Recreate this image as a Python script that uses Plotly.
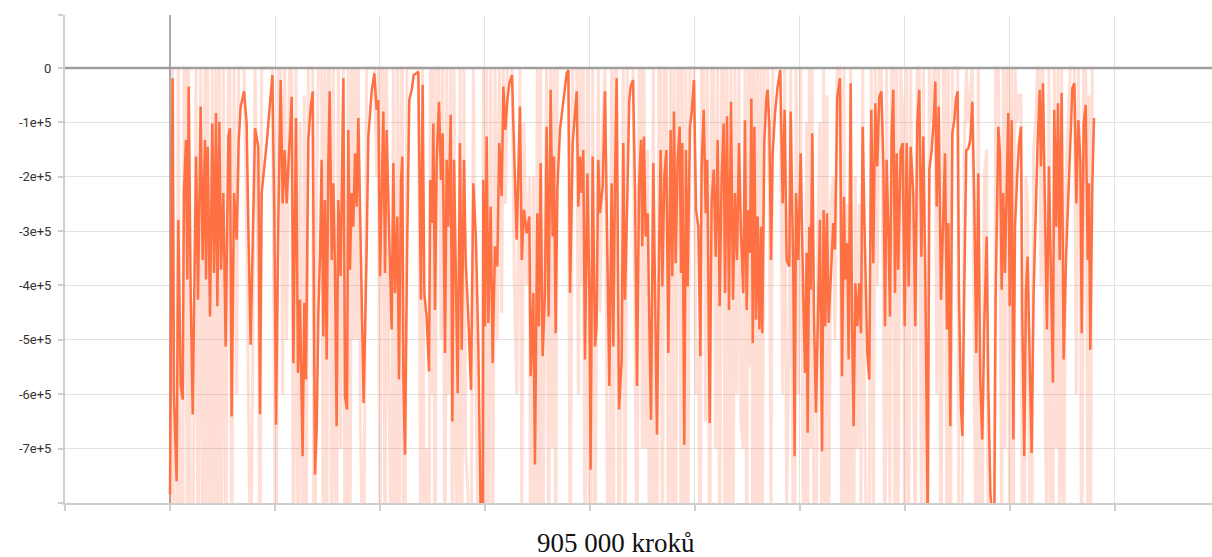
import numpy as np
import plotly.graph_objects as go

# training steps (thousands)
steps_k = (
    [0, 2.5, 3.8, 6.3, 7.9, 10.2, 12.1, 13.3, 15.2, 16.5,
     17.8, 19.7, 21.6, 24.8, 26.7, 29.2, 31.1, 33.3, 34.3, 35.9,
     38.1, 40.3, 41.9, 43.8, 45.1, 47, 48.6, 50.8, 53, 55.6,
     57.1, 58.7, 61, 63.5, 65.4, 67.3, 70.5, 73, 74.6, 76.8,
     81, 84.1, 85.7, 87.3, 92.1, 97.5, 99.4, 101, 103.2, 105.4,
     107.3, 109.2, 111.1, 113.7, 115.9, 117.5, 120, 121.9, 123.8, 126.3,
     127.9, 129.5, 131.7, 134, 135.9, 137.1, 138.1]
    + [139.7, 141.3, 142.9, 144.4, 146, 147.6, 149.2, 150.8, 152.1, 154,
       155.6, 157.1, 158.7, 160.3, 162.5, 165.1, 166.7, 168.6, 169.8, 171.4,
       173, 174.6, 176.2, 177.8, 179.4, 181, 182.5, 184.4, 187.3, 188.9,
       192.1, 194.6, 196.8, 198.4, 200, 201.6, 203.2, 204.8, 206.3, 208.6,
       211.1, 212.7, 214.3, 216.5, 218.1, 220, 221.3, 222.2, 223.8, 225.7,
       227.9, 230.2, 232.1, 234.3, 236.5, 239, 240.6, 242.2, 244.4, 246.7,
       247.9, 249.8, 250.8, 252.4, 254, 256.2, 258.1, 259.7, 261.9, 263.5,
       265.1, 267.3, 268.9, 270.5, 272.1, 274, 276.2, 277.8, 280, 281.6,
       284.1, 286.7, 288.9]
    + [291.4, 293.6, 295.9, 297.8, 298.4, 300, 301.6, 303.2, 305.4, 307.3,
       309.5, 311.7, 313.6, 315.9, 317.5, 319.4, 321.3, 323.2, 325.7, 328,
       330.2, 333.3, 335, 337.1, 339.7, 342.2, 343.5, 346, 347.6, 349.8,
       351.4, 353, 354.9, 357.1, 358.7, 360.6, 362.5, 364.4, 365.7, 367.3,
       368.9, 371.4, 374.6, 377.8, 379.4, 381, 383.5, 385.7, 387.3, 388.9,
       390.5, 392.1, 393.6, 395.2, 397.5, 399.4, 400.6, 402.5, 404.8, 406.3,
       407.9, 409.5, 412.1, 414.3, 416.5, 418.4, 420.6, 422.2, 423.8, 425.4,
       427.6, 430.2, 431.7, 433.3, 435.5, 437.4]
    + [438.7, 441, 442.9, 444.8, 446.7, 448.6, 449.8, 451.4, 453, 455,
       456.2, 458.1, 460.3, 461.9, 463.8, 465.7, 467.3, 468.9, 470.8, 472.7,
       474.6, 476.8, 478.4, 480, 481.6, 483.5, 485.4, 486.7, 487.9, 489.8,
       491.4, 493, 495.2, 496.8, 499, 501, 503.2, 505.1, 506.3, 508.3,
       510.2, 511.7, 514, 515.9, 517.8, 519.7, 521.6, 523.5, 525.4, 527.3,
       528.6, 530.5, 532.4, 534.3, 536.2, 538.1, 540, 541.9, 543.8, 546,
       547.6, 549.2, 550.8, 552.4, 553.7, 555, 556.5, 558.1, 559.7, 561.3,
       562.9, 564.1, 566, 567.9, 569.2, 570.8, 572.4, 574, 576.2, 578.7,
       581.2, 583.5, 585.4]
    + [587.3, 589.8, 591.1, 593.6, 594.9, 596.2, 598.4, 600.6, 603.2, 604.8,
       606.3, 607.3, 608.9, 610.2, 611.7, 613.3, 615.2, 617.1, 619, 621,
       622.5, 624.1, 625.7, 627.3, 629.5, 631.7, 633.3, 635.5, 638.1, 640,
       641.9, 643.1, 645.1, 646.3, 648.3, 649.5, 651.1, 652.7, 654.6, 656.5,
       658.1, 659.7, 661.6, 664.1, 666, 667.9, 669.8, 671.7, 673.6, 675.5,
       677.5, 679.4, 681, 682.5, 684.4, 685.7, 687.3, 688.9, 690.5, 692.1,
       693.6, 695.9, 697.8, 699.7, 701.6, 703.5, 705.4, 707.9, 709.8, 711.7,
       713.6, 715.6, 717.5, 719.4, 721.6, 723.2, 725.4, 727.6, 728.9, 730.2,
       732.1]
    + [734.3, 736.5, 738.1, 740, 741.3, 743.2, 745.1, 747, 748.6, 750.2,
       751.4, 753.3, 754.6, 756.5, 758.4, 760.3, 762.2, 764.1, 766, 767.9,
       769.8, 771.7, 773.6, 775.5, 777.8, 779.4, 781.3, 783.2, 785.1, 786.3,
       787.6, 788.9, 790.5, 792.1, 793.6, 795.2, 796.8, 798.4, 799.7, 801.6,
       803.2, 804.8, 806.7, 808.6, 810.5, 811.7, 813.6, 815.2, 816.8, 818.7,
       820.6, 822.5, 824.4, 826.3, 828.3, 829.5, 831.4, 833.3, 835.2, 837.1,
       839, 840.9, 842.2, 844.1, 845.7, 847.3, 849.2, 851.1, 853.3, 855.6,
       857.5, 859.4, 861.3, 863.2, 865.1, 867, 868.3, 870.2, 872.1, 874,
       875.2, 876.5, 878.4, 880]
)

# smoothed reward (thousands)
smoothed_k = (
    [-784, -19, -604, -760, -279, -585, -610, -230, -132, -389,
     -34, -414, -637, -163, -426, -71, -353, -132, -389, -145,
     -457, -102, -377, -83, -438, -99, -371, -230, -512, -126,
     -111, -641, -230, -316, -135, -71, -43, -102, -292, -509,
     -111, -145, -637, -230, -138, -13, -279, -656, -279, -22,
     -249, -151, -249, -132, -53, -543, -92, -561, -426, -714,
     -432, -573, -132, -71, -43, -445, -748]
    + [-665, -451, -340, -169, -494, -243, -536, -169, -43, -353,
       -212, -365, -659, -243, -383, -19, -604, -628, -114, -371,
       -230, -292, -157, -255, -92, -267, -383, -616, -334, -126,
       -43, -10, -77, -59, -383, -218, -80, -377, -114, -292,
       -481, -175, -414, -273, -573, -206, -163, -561, -711, -353,
       -59, -40, -13, -10, -7, -426, -31, -414, -457, -558,
       -206, -285, -102, -445, -169, -62, -206, -120, -524, -169,
       -292, -86, -650, -169, -340, -598, -138, -518, -169, -353,
       -457, -592, -212]
    + [-316, -506, -830, -830, -206, -475, -126, -469, -255, -543,
       -328, -365, -138, -236, -34, -114, -59, -28, -13, -169,
       -316, -71, -353, -261, -304, -273, -567, -414, -729, -267,
       -475, -175, -530, -414, -108, -457, -40, -310, -163, -488,
       -224, -114, -65, -10, -4, -414, -138, -83, -43, -255,
       -163, -230, -151, -536, -194, -414, -739, -163, -512, -475,
       -169, -267, -218, -43, -353, -585, -212, -512, -212, -19,
       -628, -536, -138, -426, -243, -59]
    + [-34, -22, -230, -585, -218, -132, -328, -126, -310, -267,
       -432, -647, -175, -426, -674, -353, -151, -402, -200, -151,
       -524, -114, -383, -80, -359, -169, -108, -377, -138, -693,
       -151, -402, -108, -83, -22, -261, -292, -530, -181, -77,
       -267, -169, -653, -243, -187, -347, -132, -438, -200, -102,
       -414, -89, -445, -62, -426, -230, -353, -138, -304, -414,
       -96, -445, -261, -340, -56, -506, -108, -463, -273, -481,
       -292, -488, -138, -59, -40, -102, -353, -157, -83, -34,
       -4, -249, -77]
    + [-353, -365, -80, -371, -714, -230, -353, -157, -426, -561,
       -340, -671, -292, -408, -120, -451, -634, -469, -279, -705,
       -261, -475, -267, -469, -365, -285, -334, -53, -19, -567,
       -237, -389, -322, -536, -28, -463, -659, -396, -475, -396,
       -488, -108, -304, -524, -573, -77, -359, -65, -181, -53,
       -43, -175, -475, -169, -316, -457, -120, -40, -414, -157,
       -371, -151, -138, -475, -138, -402, -145, -230, -475, -102,
       -40, -347, -126, -389, -830, -187, -151, -89, -25, -255,
       -71]
    + [-426, -273, -157, -481, -285, -659, -120, -96, -56, -43,
       -414, -622, -677, -402, -151, -148, -132, -62, -243, -524,
       -194, -573, -683, -475, -310, -592, -781, -830, -810, -426,
       -230, -108, -157, -408, -230, -377, -230, -83, -438, -96,
       -683, -292, -206, -138, -108, -451, -714, -414, -347, -518,
       -708, -414, -261, -138, -40, -181, -28, -249, -481, -181,
       -414, -579, -77, -292, -65, -353, -46, -536, -353, -230,
       -108, -37, -28, -249, -96, -169, -488, -102, -68, -353,
       -212, -518, -218, -92]
)

# raw reward (thousands)
raw_k = (
    [-1000, 0, -1000, -1000, 0, -1000, -1000, 0, 0, -1000,
     0, -1000, -1000, 0, -1000, 0, -1000, 0, -1000, 0,
     -1000, 0, -1000, 0, -1000, 0, -1000, 0, -1000, 0,
     0, -1000, 0, -600, 0, 0, 0, -300, -600, -1000,
     0, -400, -1000, 0, 0, 0, -600, -1000, 0, 0,
     -600, 0, -500, 0, 0, -1000, 0, -1000, -100, -1000,
     -50, -1000, 0, 0, 0, -1000, -1000]
    + [-200, 0, 0, 0, -1000, 0, -1000, 0, 0, -1000,
       0, -700, -1000, 0, -700, 0, -1000, -1000, 0, -1000,
       0, -500, 0, -500, 0, -600, -800, -1000, 0, 0,
       0, 0, -200, 0, -1000, 0, 0, -1000, 0, -600,
       -1000, 0, -1000, 0, -1000, 0, 0, -1000, -1000, 0,
       0, 0, 0, 0, 0, -1000, 0, -1000, -700, -1000,
       0, -600, 0, -1000, 0, 0, -500, 0, -1000, 0,
       -600, 0, -1000, 0, -700, -1000, 0, -1000, 0, -700,
       -800, -1000, 0]
    + [-600, -1000, -1200, -1200, 0, -1000, 0, -1000, 0, -1000,
       0, -500, 0, -450, 0, -250, 0, 0, 0, -400,
       -600, 0, -800, -100, -400, -200, -1000, -200, -1000, 0,
       -1000, 0, -1000, -300, 0, -1000, 0, -700, 0, -1000,
       0, 0, 0, 0, 0, -1000, 0, 0, 0, -600,
       0, -400, 0, -1000, 0, -900, -1000, 0, -1000, -400,
       0, -450, -100, 0, -800, -1000, 0, -1000, 0, 0,
       -1000, -400, 0, -1000, 0, 0]
    + [0, 0, -500, -1000, 0, 0, -700, 0, -700, -150,
       -800, -1000, 0, -1000, -1000, 0, 0, -1000, 0, 0,
       -1000, 0, -1000, 0, -900, 0, 0, -1000, 0, -1000,
       0, -1000, 0, 0, 0, -600, -500, -1000, 0, 0,
       -650, 0, -1000, 0, 0, -700, 0, -1000, 0, 0,
       -1000, 0, -1000, 0, -1000, 0, -600, 0, -650, -700,
       0, -1000, 0, -550, 0, -1000, 0, -1000, 0, -900,
       0, -900, 0, 0, 0, -250, -800, 0, 0, 0,
       0, -600, 0]
    + [-800, -500, 0, -900, -1000, 0, -600, 0, -900, -1000,
       -100, -1000, 0, -700, 0, -1000, -1000, -300, -100, -1000,
       0, -900, -50, -900, -250, -200, -500, 0, 0, -1000,
       0, -800, -250, -1000, 0, -1000, -1000, -200, -700, -250,
       -800, 0, -650, -1000, -800, 0, -900, 0, -400, 0,
       0, -450, -1000, 0, -650, -800, 0, 0, -1000, 0,
       -800, 0, -80, -1000, 0, -900, 0, -450, -900, 0,
       0, -800, 0, -900, -1200, 0, -100, 0, 0, -600,
       0]
    + [-1000, 0, 0, -1000, 0, -1000, 0, 0, 0, 0,
       -1000, -1000, -800, -150, 0, -100, -50, 0, -550, -1000,
       0, -1000, -900, -200, -150, -1000, -1100, -1200, -1000, 0,
       0, 0, -300, -900, 0, -700, 0, 0, -1000, 0,
       -1000, 0, -100, -50, -50, -1000, -1000, -200, -250, -800,
       -1000, -150, -100, 0, 0, -400, 0, -600, -900, 0,
       -900, -900, 0, -700, 0, -900, 0, -1000, -200, -100,
       0, 0, 0, -600, 0, -350, -1000, 0, 0, -800,
       -50, -1000, 0, 0]
)

y_tick_vals = [-800000, -700000, -600000, -500000, -400000, -300000,
               -200000, -100000, 0, 97400]
y_tick_text = ['', '-7e+5', '-6e+5', '-5e+5', '-4e+5', '-3e+5',
               '-2e+5', '-1e+5', '0', '']
x_tick_vals = [-100000, 0, 100000, 200000, 300000, 400000, 500000,
               600000, 700000, 800000, 900000]
title_text = '905 000 kroků'

n = min(len(steps_k), len(smoothed_k), len(raw_k))
x = np.array(steps_k[:n]) * 1000
y_s = np.array(smoothed_k[:n]) * 1000
y_r = np.array(raw_k[:n]) * 1000

ORANGE = '#ff7043'

fig = go.Figure()
fig.add_trace(go.Scatter(x=x, y=y_r, mode='lines',
                         line=dict(color=ORANGE, width=3),
                         opacity=0.22, hoverinfo='skip'))
fig.add_trace(go.Scatter(x=x, y=y_s, mode='lines',
                         line=dict(color=ORANGE, width=2.5)))

fig.update_layout(
    width=1212, height=557,
    margin=dict(l=65, r=0, t=15, b=54, autoexpand=False),
    plot_bgcolor='white', paper_bgcolor='white',
    showlegend=False,
    xaxis=dict(range=[-100000, 992400], tickvals=x_tick_vals,
               showticklabels=False, ticks='outside', ticklen=6,
               tickcolor='#cfcfcf', tickwidth=2,
               showgrid=True, gridcolor='#e2e2e2', gridwidth=1,
               zeroline=True, zerolinecolor='#ababab', zerolinewidth=2,
               showline=True, linecolor='#cfcfcf', linewidth=2),
    yaxis=dict(range=[-800000, 97400], tickvals=y_tick_vals,
               ticktext=y_tick_text, ticks='outside', ticklen=5,
               tickcolor='#cfcfcf', tickwidth=2,
               showgrid=True, gridcolor='#e2e2e2', gridwidth=1,
               zeroline=False,
               showline=True, linecolor='#cfcfcf', linewidth=2,
               tickfont=dict(family='Roboto', size=13, color='#333333'),
               ticklabelstandoff=4),
    shapes=[dict(type='line', xref='paper', yref='y', x0=0, x1=1, y0=0, y1=0,
                 line=dict(color='#9e9e9e', width=2.5), layer='above')],
    annotations=[dict(text=title_text, xref='paper', yref='paper',
                      x=0.4808, y=-0.082, xanchor='center', yanchor='middle',
                      showarrow=False,
                      font=dict(family='Liberation Serif', size=27, color='#111111'))],
)

fig.write_html('out.html',
               config={'displayModeBar': False},
               post_script="document.body.style.margin='0';"
                           "document.body.style.overflow='hidden';")
